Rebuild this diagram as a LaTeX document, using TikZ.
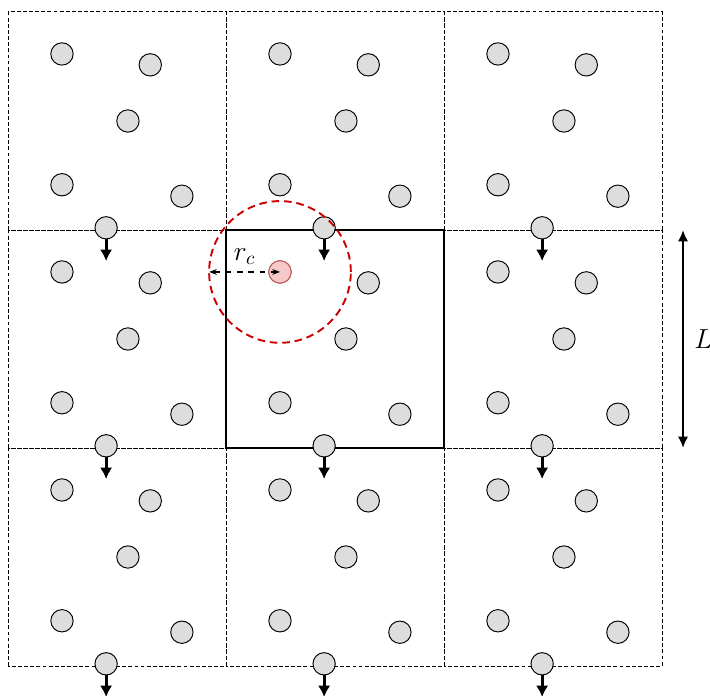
\documentclass[tikz,border=0pt]{standalone}
\usetikzlibrary{arrows.meta}
\definecolor{particlegray}{RGB}{221,221,221}
\definecolor{cutoffred}{RGB}{204,0,0}
\definecolor{ghostpink}{RGB}{247,200,200}
\definecolor{ghostedge}{RGB}{205,95,95}

\tikzset{
  cell/.style={line width=0.5pt, dash pattern=on 2pt off 1.2pt},
  simbox/.style={line width=1pt},
  particle/.style={circle, draw, line width=0.5pt, fill=particlegray, minimum size=0.41cm, inner sep=0pt},
  tagged/.style={particle, draw=ghostedge, fill=ghostpink},
  drift/.style={line width=1.5pt, -{Latex[length=6pt,width=6.5pt]}},
  cutoff/.style={draw=cutoffred, line width=1pt, dash pattern=on 4pt off 2.5pt},
  radius/.style={thick, dashed, {Stealth[length=4pt]}-{Stealth[length=4pt]}},
  boxlen/.style={line width=1.3pt, {Latex[length=6pt,width=5.5pt]}-{Latex[length=6pt,width=5.5pt]}}
}

\begin{document}
\begin{tikzpicture}
  \useasboundingbox (-0.147,-0.55) rectangle (12.88,12.22);

  % periodic images of the box
  \foreach \i in {0,1,2}{
    \foreach \j in {0,1,2}{
      \draw[cell] (4*\i,4*\j) rectangle ++(4,4);
    }
  }

  % central simulation box
  \draw[simbox] (4,4) rectangle (8,8);

  % particles, same layout in every image
  \foreach \i in {0,1,2}{
    \foreach \j in {0,1,2}{
      \foreach \k/\px/\py in {1/0.99/3.23, 2/2.61/3.03, 3/2.20/2.00, 4/0.99/0.83, 5/3.19/0.62, 6/1.80/0.04}{
        \node[particle] (p\i\j\k) at (4*\i+\px,4*\j+\py) {};
      }
      % particle leaving through the bottom face
      \coordinate (d\i\j) at ([yshift=-0.61cm]p\i\j6.center);
      \draw[drift] (p\i\j6) -- (d\i\j);
    }
  }

  % tagged particle and its cutoff sphere
  \node[tagged] (ref) at (p111) {};
  \coordinate (edge) at ([xshift=-1.30cm]ref.center);
  \draw[cutoff] (ref) circle (1.30);
  \draw[radius] (edge) -- (ref.center) node[midway, above=0pt] {\Large $r_c$};

  % box length
  \coordinate (Ltop) at (12.385,8);
  \coordinate (Lbot) at (12.385,4);
  \draw[boxlen] (Ltop) -- (Lbot) node[midway, right=2pt] {\Large $L$};
\end{tikzpicture}
\end{document}
